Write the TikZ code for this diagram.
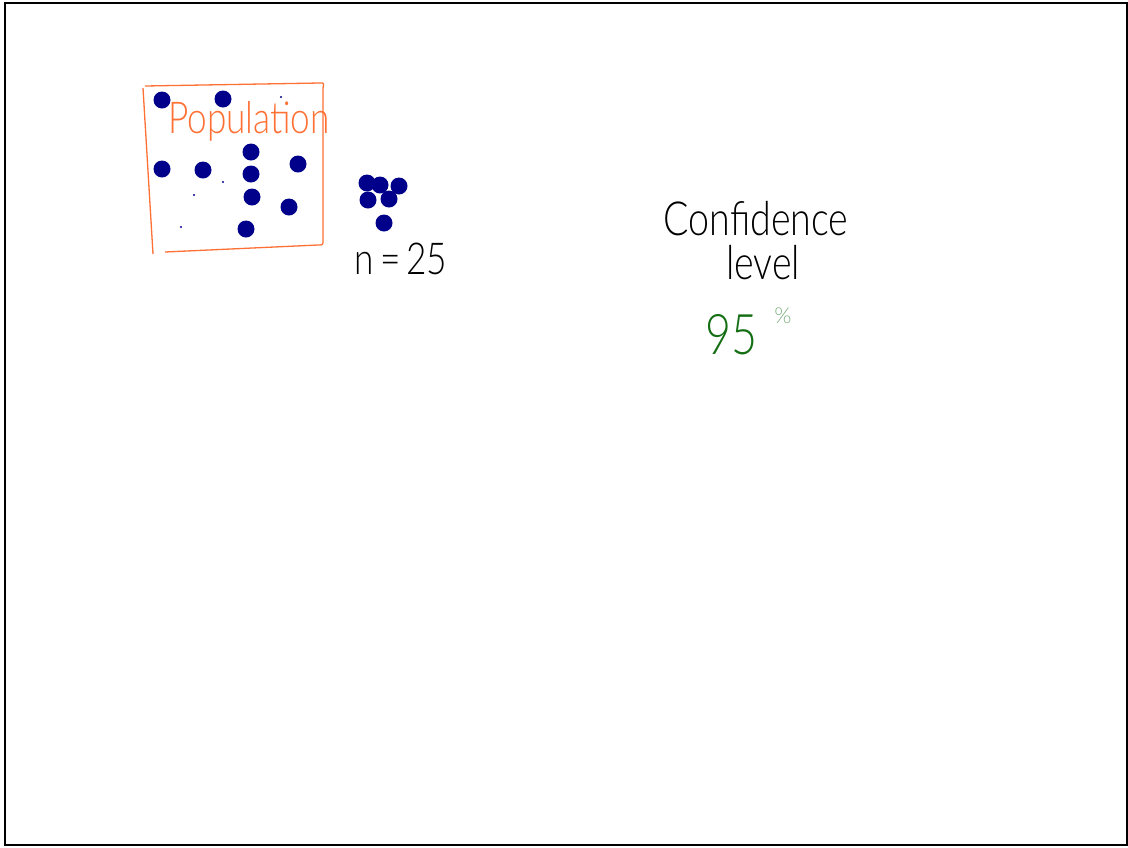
\documentclass[tikz,border=0pt]{standalone}
\usepackage{fontspec}
\usepackage{tikz}
\usetikzlibrary{positioning}
\newfontfamily\handfont{Lato Light}
\definecolor{navy}{RGB}{0,0,139}
\definecolor{naranja}{RGB}{255,112,52}
\definecolor{verde}{RGB}{20,110,20}

\begin{document}
\begin{tikzpicture}[x=1pt,y=-1pt,
dot/.style={circle,fill=navy,inner sep=0pt,minimum size=17pt},
speck/.style={circle,fill=navy,inner sep=0pt,minimum size=2.2pt},
hand/.style={font=\handfont\fontsize{47}{50}\selectfont,xscale=0.8,transform shape,inner sep=0pt}
]
\useasboundingbox (0,0) rectangle (1128,847);
\draw[line width=2pt] (5,2.5) rectangle (1127,845);
% population box
\draw[naranja,line width=1.3pt,line join=round]
  (145,86) -- (320,83) .. controls (324,83) .. (323,88) -- (323,240)
  .. controls (323,245) .. (318,245) -- (165,252);
\draw[naranja,line width=1.3pt] (143,88) -- (153,254);
\node[hand,text=naranja,font=\handfont\fontsize{44}{48}\selectfont] (pop) at (249,121) {Population};
\foreach \x/\y [count=\i] in {162/100,223/99,251/152,298/164,162/169,203/170,251/174,252/197,289/207,246/229}
  \node[dot] (p\i) at (\x,\y) {};
\foreach \x/\y [count=\i] in {281/97,223/182,194/195,181/227}
  \node[speck] (q\i) at (\x,\y) {};
% sample
\foreach \x/\y [count=\i] in {367/183,380/185,399/186,368/200,389/199,384/223}
  \node[dot] (s\i) at (\x,\y) {};
\node[hand,font=\handfont\fontsize{44}{48}\selectfont] (n) at (401,259) {n\,=\,25};
% confidence level
\node[hand] (conf) at (756,219) {Confidence};
\node[hand] (lev) at (763,263) {level};
\node[hand,text=verde,font=\handfont\fontsize{56}{60}\selectfont] (pct) at (731,335) {95};
\node[text=verde!55,font=\handfont\fontsize{22}{24}\selectfont,inner sep=0pt] (pc) at (783,316) {\%};
\end{tikzpicture}
\end{document}
